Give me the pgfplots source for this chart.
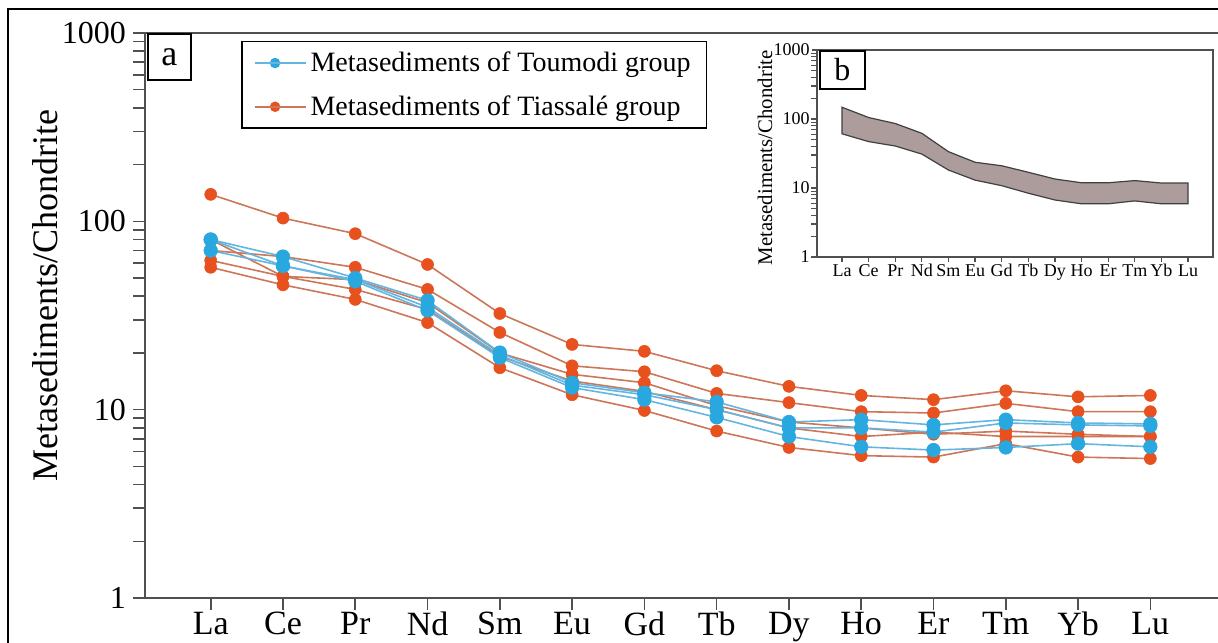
\documentclass[border=0pt]{standalone}
\usepackage{fontspec}
\setmainfont{Liberation Serif}
\usepackage{pgfplots}
\usepackage{pgfplotstable}
\pgfplotsset{compat=1.18}

\definecolor{toublue}{RGB}{41,168,224}
\definecolor{toublueline}{RGB}{100,182,224}
\definecolor{tiaorange}{RGB}{232,80,30}
\definecolor{tialine}{RGB}{205,118,88}
\definecolor{bandfill}{RGB}{172,156,156}
\definecolor{axisgray}{RGB}{80,80,80}

% chondrite-normalised REE, Tiassale group (5 samples)
\pgfplotstableread{
idx T1   T2   T3   T4   T5
1   139  70   80   62   57
2   104  65   51   51   46
3   86   57   49   43.5 38.5
4   59   43.5 37   34   29
5   32.4 25.7 20   19.2 16.7
6   22.2 17.1 15.4 14.2 12.0
7   20.4 15.9 13.9 12.5 9.9
8   16.1 12.2 10.5 10.0 7.7
9   13.3 10.9 8.6  8.0  6.3
10  11.9 9.76 8.0  7.2  5.7
11  11.3 9.6  7.4  7.6  5.6
12  12.6 10.8 7.7  7.2  6.6
13  11.7 9.76 7.4  7.2  5.6
14  11.9 9.76 7.2  7.2  5.5
}\tiassale

% Toumodi group (3 samples)
\pgfplotstableread{
idx B1   B2   B3
1   80   80   70
2   65   58   58
3   50   49   48
4   38   35   33.6
5   20.1 19.5 18.9
6   13.9 13.5 13.1
7   12.3 12.0 11.3
8   11.0 10.0 9.1
9   8.6  8.0  7.2
10  8.85 8.0  6.35
11  8.3  7.6  6.1
12  8.85 8.5  6.3
13  8.5  8.3  6.6
14  8.4  8.2  6.35
}\toumodi

\pgfplotsset{
  tia/.style={tialine, line width=0.8pt, mark=*, mark size=3pt,
    mark options={tiaorange, draw=tiaorange, line width=0.3pt}},
  tou/.style={toublueline, line width=0.8pt, mark=*, mark size=3.4pt,
    mark options={toublue, draw=toublue, line width=0.3pt}},
}

\begin{document}
\begin{tikzpicture}
\path[use as bounding box] (0,0) rectangle (609pt,321pt);
\fill[white] (0,0) rectangle (609pt,321pt);

% outer frame of the figure
\draw[line width=1.4pt] (4pt,-10pt) -- (4pt,316.5pt) -- (630pt,316.5pt);

\begin{axis}[
  at={(72.5pt,22pt)}, anchor=south west, scale only axis,
  width=543.5pt, height=282.5pt,
  ymode=log, ymin=1, ymax=1000,
  xmin=0.091, xmax=15.13,
  xtick={1,...,14},
  xticklabels={La,Ce,Pr,Nd,Sm,Eu,Gd,Tb,Dy,Ho,Er,Tm,Yb,Lu},
  ytick={1,10,100,1000},
  yticklabels={1,10,100,1000},
  tick pos=left,
  tick align=outside,
  major tick length=6pt,
  axis line style={axisgray, line width=0.8pt},
  every tick/.style={axisgray, line width=0.8pt},
  x tick label style={font=\fontsize{17}{17}\selectfont, yshift=2.5pt},
  y tick label style={font=\fontsize{16}{16}\selectfont},
  ylabel={Metasediments/Chondrite},
  ylabel style={font=\fontsize{18}{18}\selectfont,
    at={(rel axis cs:0,0.536)}, anchor=center, yshift=50pt},
  legend style={at={(rel axis cs:0.0883,0.986)}, anchor=north west,
    draw=black, line width=0.8pt, font=\fontsize{14}{16}\selectfont,
    inner xsep=6pt, inner ysep=3pt, row sep=6.5pt},
  legend cell align=left,
  legend image code/.code={%
    \draw[mark repeat=2,mark phase=2,#1] plot coordinates {(0cm,0cm) (0.36cm,0cm) (0.72cm,0cm)};
    \path (0cm,0cm) -- (0.9cm,0cm);},
  clip=false,
]
\addlegendimage{toublueline, line width=0.8pt, mark=*, mark size=2.2pt, mark options={toublue, draw=toublue}}
\addlegendentry{Metasediments of Toumodi group}
\addlegendimage{tialine, line width=0.8pt, mark=*, mark size=2.2pt, mark options={tiaorange, draw=tiaorange}}
\addlegendentry{Metasediments of Tiassalé group}

% minor ticks of the log axis
\pgfplotsinvokeforeach{2,3,4,5,6,7,8,9,20,30,40,50,60,70,80,90,200,300,400,500,600,700,800,900}{
  \draw[axisgray, line width=0.8pt] (axis cs:0.091,#1) -- ++(-6pt,0pt);
}

\addplot[tia, forget plot] table[x=idx, y=T5] {\tiassale};
\addplot[tia, forget plot] table[x=idx, y=T4] {\tiassale};
\addplot[tia, forget plot] table[x=idx, y=T3] {\tiassale};
\addplot[tia, forget plot] table[x=idx, y=T2] {\tiassale};
\addplot[tia, forget plot] table[x=idx, y=T1] {\tiassale};
\addplot[tou, forget plot] table[x=idx, y=B3] {\toumodi};
\addplot[tou, forget plot] table[x=idx, y=B2] {\toumodi};
\addplot[tou, forget plot] table[x=idx, y=B1] {\toumodi};

\node[draw=black, line width=0.8pt, anchor=north west, minimum width=21.5pt,
  minimum height=23pt, inner sep=0pt, font=\fontsize{18}{18}\selectfont,
  fill=white] at (rel axis cs:0.002,1) {a};
\end{axis}

% inset b: range of all samples
\begin{axis}[
  at={(408.5pt,192.5pt)}, anchor=south west, scale only axis,
  width=198pt, height=103.5pt,
  ymode=log, ymin=1, ymax=1000,
  xmin=0.06, xmax=14.94,
  xtick={1,...,14},
  xticklabels={La,Ce,Pr,Nd,Sm,Eu,Gd,Tb,Dy,Ho,Er,Tm,Yb,Lu},
  ytick={1,10,100,1000},
  yticklabels={1,10,100,1000},
  tick pos=left,
  tick align=outside,
  major tick length=2.5pt,
  axis line style={axisgray, line width=0.8pt},
  every tick/.style={axisgray, line width=0.6pt},
  x tick label style={font=\fontsize{9}{9}\selectfont, inner sep=1pt},
  y tick label style={font=\fontsize{9}{9}\selectfont, inner sep=1pt},
  ylabel={Metasediments/Chondrite},
  ylabel style={font=\fontsize{10.4}{10.4}\selectfont,
    at={(rel axis cs:0,0.48)}, anchor=center, yshift=26pt},
  clip=false,
]
\pgfplotsinvokeforeach{2,3,4,5,6,7,8,9,20,30,40,50,60,70,80,90,200,300,400,500,600,700,800,900}{
  \draw[axisgray, line width=0.5pt] (axis cs:0.06,#1) -- ++(-2pt,0pt);
}
\addplot[fill=bandfill, draw=black!75, line width=0.6pt] coordinates {
  (1,148) (2,105) (3,86) (4,62) (5,33.6) (6,23.6) (7,21) (8,16.9)
  (9,13.5) (10,11.9) (11,11.9) (12,12.8) (13,11.8) (14,11.8)
  (14,5.9) (13,5.9) (12,6.5) (11,5.9) (10,5.9) (9,6.7) (8,8.4)
  (7,10.8) (6,13) (5,18.2) (4,31) (3,40.6) (2,47) (1,61)
} -- cycle;
\node[draw=black, line width=0.8pt, anchor=north west, minimum width=22.5pt,
  minimum height=19pt, inner sep=0pt, font=\fontsize{16}{16}\selectfont]
  at (rel axis cs:0.005,1) {b};
\end{axis}
\end{tikzpicture}
\end{document}
